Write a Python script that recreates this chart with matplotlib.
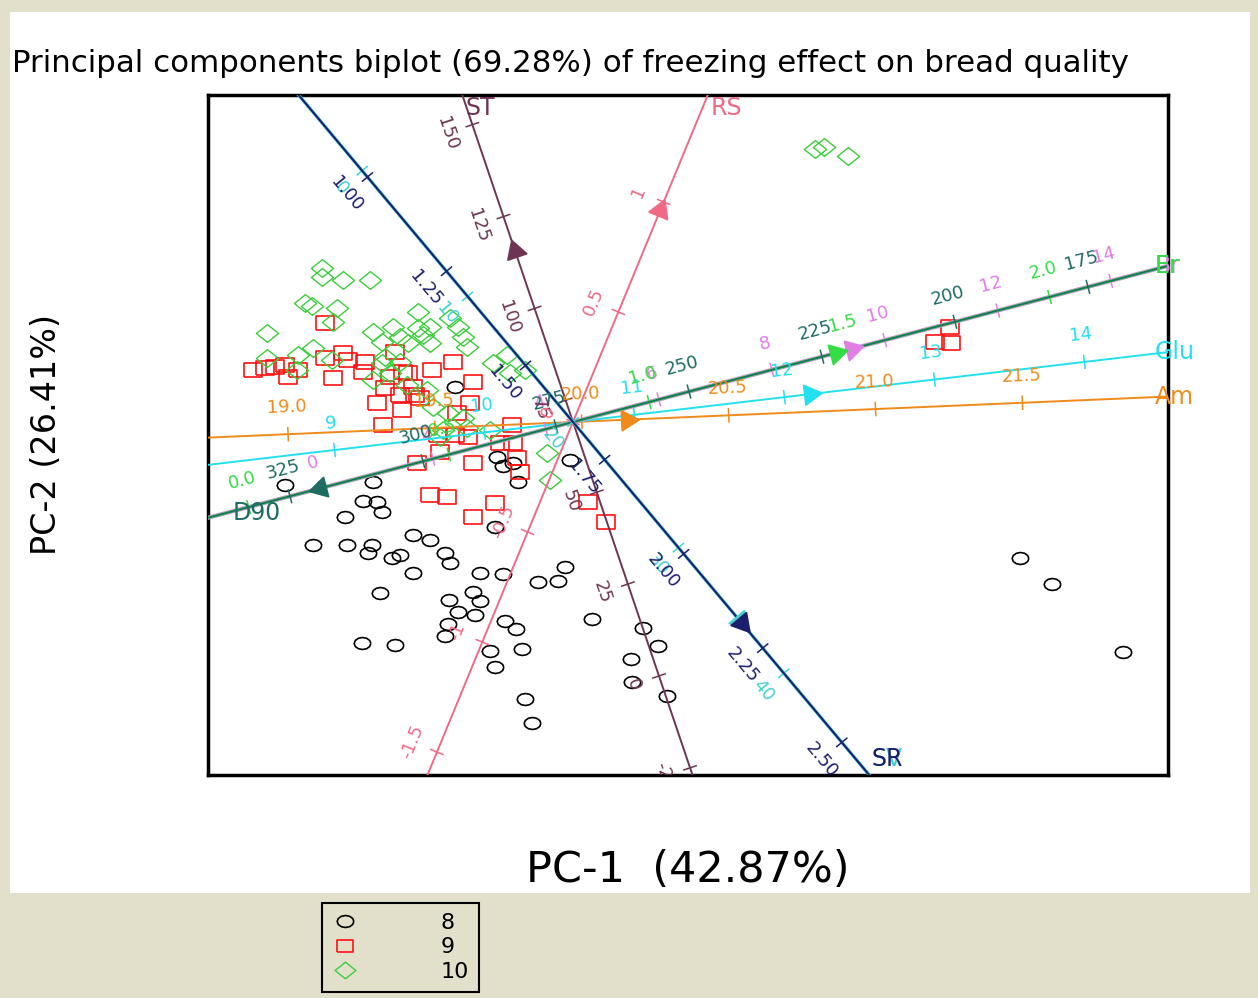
import numpy as np
import matplotlib
matplotlib.use('Agg')
import matplotlib.pyplot as plt
from matplotlib.path import Path
from matplotlib.lines import Line2D
from matplotlib.patches import Rectangle

# PC scores, group 8
g8_pc1 = [-2.88, -2.00, -2.10, -1.96, -1.91, -2.28, -1.18, -0.76, -0.60, -0.55, -0.70, -0.03, -0.78,
          -2.60, -2.26, -2.01, -2.05, -1.81, -1.73, -1.60, -1.43, -1.28, -1.23, -1.60, -1.93, -0.93,
          -0.70, -0.35, -0.15, -0.08, -1.00, -0.93, -1.24, -1.15, -0.98, -1.25, -1.28, -0.68, -0.57,
          -0.51, -0.83, -0.78, -2.11, -1.78, 0.19, 0.70, 0.85, 0.58, 0.59, 0.94, -0.48, -0.41,
          4.47, 4.79, 5.50]
g8_pc2 = [-0.63, -0.60, -0.79, -0.80, -0.90, -0.95, 0.35, -0.35, -0.41, -0.60, -0.44, -0.38, -1.05,
          -1.23, -1.23, -1.23, -1.31, -1.36, -1.33, -1.13, -1.18, -1.31, -1.41, -1.51, -1.71, -1.51,
          -1.52, -1.60, -1.59, -1.45, -1.70, -1.79, -1.78, -1.90, -1.93, -2.02, -2.14, -1.99, -2.07,
          -2.27, -2.29, -2.45, -2.21, -2.23, -1.97, -2.06, -2.24, -2.37, -2.60, -2.74, -2.77, -3.01,
          -1.36, -1.62, -2.30]

# group 9
g9_pc1 = [-3.20, -3.08, -2.98, -2.88, -2.85, -2.75, -2.48, -2.30, -2.25, -2.08, -2.40, -1.78, -2.10,
          -1.83, -1.70, -1.65, -1.41, -1.20, -1.60, -1.88, -1.73, -1.58, -1.53, -1.96, -1.71, -1.00,
          -1.03, -1.16, -1.90, -0.61, -1.35, -1.18, -1.05, -0.73, -0.60, -1.33, -1.56, -1.00, -0.56,
          -0.53, -1.43, -1.26, -0.78, -1.00, 0.15, 0.33, -2.48, 3.62, 3.78, 3.77]
g9_pc2 = [0.52, 0.54, 0.55, 0.57, 0.45, 0.52, 0.64, 0.69, 0.62, 0.60, 0.44, 0.70, 0.50,
          0.45, 0.50, 0.49, 0.52, 0.60, 0.35, 0.34, 0.27, 0.27, 0.24, 0.19, 0.12, 0.40,
          0.19, 0.09, -0.03, -0.03, -0.13, -0.13, -0.15, -0.21, -0.21, -0.30, -0.41, -0.41, -0.36,
          -0.50, -0.73, -0.75, -0.81, -0.95, -0.80, -1.00, 0.99, 0.80, 0.79, 0.95]

# group 10
g10_pc1 = [-2.51, -2.51, -2.30, -2.03, -2.68, -2.61, -2.36, -3.06, -2.40, -2.00, -1.80, -1.55, -1.55,
           -1.50, -1.91, -1.73, -1.65, -1.43, -1.23, -1.15, -1.10, -1.06, -2.60, -2.75, -3.06, -1.88,
           -0.66, -0.80, -1.43, -2.76, -2.41, -1.91, -1.73, -1.83, -2.00, -1.66, -1.46, -1.40, -1.25,
           -1.10, -0.63, -0.48, -0.83, -0.26, -0.23, -1.30, -1.06, -1.33, 2.42, 2.51, 2.75]
g10_pc2 = [1.54, 1.45, 1.42, 1.42, 1.19, 1.16, 1.14, 0.89, 1.00, 0.90, 0.95, 1.10, 0.94,
           0.87, 0.80, 0.85, 0.79, 0.95, 1.04, 0.95, 0.85, 0.75, 0.74, 0.67, 0.64, 0.65,
           0.67, 0.59, 0.79, 0.52, 0.62, 0.59, 0.60, 0.49, 0.42, 0.37, 0.32, 0.15, 0.09,
           0.04, 0.49, 0.52, -0.08, -0.31, -0.58, -0.08, -0.06, -0.15, 2.73, 2.75, 2.66]

group_labels = ['8', '9', '10']

# calibrated biplot axes
var_names = ['Am', 'Glu', 'Br', 'Er', 'D90', 'ST', 'RS', 'SV', 'SR']
var_colors = ['#f08a1a', '#22e0f0', '#e07ee6', '#33dd44', '#1d6b63', '#6e3552', '#ee6a85', '#45d0d0', '#1b1f6e']
var_angle = [2.45, 6.7, 14.7, 14.7, 194.7, 108.7, 67.6, -50.0, -50.0]    # direction of increase
var_centre = [19.97, 10.59, 4.48, 0.81, 271.8, 69.1, 0.0, 20.0, 1.65]    # value at the origin
var_scale = [2.94, 1.51, 0.584, 4.14, 0.055, 0.0388, 2.38, 0.164, 4.92]  # plot units per unit
var_ticks = [[19.0, 19.5, 20.0, 20.5, 21.0, 21.5],
             [9, 10, 11, 12, 13, 14],
             [0, 2, 4, 6, 8, 10, 12, 14],
             [0.0, 0.5, 1.0, 1.5, 2.0],
             [175, 200, 225, 250, 275, 300, 325],
             [-25, 0, 25, 50, 75, 100, 125, 150],
             [-1.5, -1.0, -0.5, 0.0, 0.5, 1.0],
             [0, 10, 20, 30, 40],
             [1.00, 1.25, 1.50, 1.75, 2.00, 2.25, 2.50]]
var_fmt = ['%.1f', '%d', '%d', '%.1f', '%d', '%d', '%g', '%d', '%.2f']
var_arrow = [0.54, 2.39, 2.88, 2.72, 2.62, 1.81, 2.29, 2.60, 2.63]
var_lw = [1.4, 1.4, 3.0, 2.0, 1.2, 1.4, 1.4, 2.4, 1.5]

X0, X1, Y0, Y1 = -3.65, 5.95, -3.53, 3.27
bg = '#e2e0ca'

fig = plt.figure(figsize=(12.58, 9.98), dpi=100, facecolor=bg)
fig.add_artist(Rectangle((10 / 1258, 1 - 893 / 998), 1240 / 1258, 881 / 998,
                         transform=fig.transFigure, facecolor='white', edgecolor='none', zorder=-5))
ax = fig.add_axes([208 / 1258, 1 - 775 / 998, 960 / 1258, 680 / 998])

# markers (squashed, like the stretched original)
th = np.linspace(0, 2 * np.pi, 13)
m_circ = Path(np.column_stack([np.cos(th), 0.72 * np.sin(th)]))
m_sq = Path([(-1, -0.76), (1, -0.76), (1, 0.76), (-1, 0.76), (-1, -0.76)])
m_dia = Path([(0, -0.8), (1, 0), (0, 0.8), (-1, 0), (0, -0.8)])

ax.plot(g8_pc1, g8_pc2, ls='none', marker=m_circ, ms=12, mfc='none', mec='black', mew=1.2, zorder=2)
ax.plot(g9_pc1, g9_pc2, ls='none', marker=m_sq, ms=12.5, mfc='none', mec='#ff1111', mew=1.2, zorder=2)
ax.plot(g10_pc1, g10_pc2, ls='none', marker=m_dia, ms=16, mfc='none', mec='#3ccc3c', mew=1.0, zorder=2)

for i, name in enumerate(var_names):
    col = var_colors[i]
    ang = var_angle[i]
    d = np.array([np.cos(np.radians(ang)), np.sin(np.radians(ang))])
    ax.plot([-15 * d[0], 15 * d[0]], [-15 * d[1], 15 * d[1]], color=col, lw=var_lw[i], zorder=3)
    orient = ang % 180
    n = np.array([np.cos(np.radians(orient + 90)), np.sin(np.radians(orient + 90))])
    rot = orient if orient <= 90 else orient - 180
    for v in var_ticks[i]:
        p = (v - var_centre[i]) * var_scale[i] * d
        ax.plot([p[0] - 0.065 * n[0], p[0] + 0.065 * n[0]], [p[1] - 0.065 * n[1], p[1] + 0.065 * n[1]],
                color=col, lw=1.1, zorder=3)
        q = p + 0.27 * n
        ax.text(q[0], q[1], var_fmt[i] % v, color=col, fontsize=13, rotation=rot,
                rotation_mode='anchor', ha='center', va='center', clip_on=True, zorder=5)
    a = var_arrow[i] * d
    ax.plot(a[0], a[1], marker=(3, 0, ang - 90), ms=17, color=col, mec=col, zorder=4)

    # variable name where the axis leaves the plot
    tx = (X1 if d[0] > 0 else X0) / d[0]
    ty = (Y1 if d[1] > 0 else Y0) / d[1]
    if tx < ty:
        e = tx * d
        if d[0] > 0:
            ax.text(X1 - 0.13, e[1], name, color=col, fontsize=17, ha='left', va='center',
                    clip_on=False, zorder=6)
        else:
            ax.text(X0 + 0.25, e[1] + 0.05, name, color=col, fontsize=17, ha='left', va='center',
                    zorder=6)
    else:
        e = ty * d
        if d[1] > 0:
            ax.text(e[0] + 0.03, Y1 - 0.01, name, color=col, fontsize=17, ha='left', va='top', zorder=6)
        else:
            ax.text(e[0] + 0.02, Y0 + 0.04, name, color=col, fontsize=17, ha='left', va='bottom', zorder=6)

ax.set_xlim(X0, X1)
ax.set_ylim(Y0, Y1)
ax.set_xticks([])
ax.set_yticks([])
for s in ax.spines.values():
    s.set_linewidth(2.5)
    s.set_color('black')

fig.text(12 / 1258, 1 - 63 / 998, 'Principal components biplot (69.28%) of freezing effect on bread quality',
         fontsize=22.2, ha='left', va='center')
fig.text(688 / 1258, 1 - 870 / 998, 'PC-1  (42.87%)', fontsize=31, ha='center', va='center')
fig.text(47 / 1258, 1 - 435 / 998, 'PC-2 (26.41%)', fontsize=24, ha='center', va='center', rotation=90)

handles = [Line2D([], [], ls='none', marker=m_circ, ms=12, mfc='none', mec='black', mew=1.2),
           Line2D([], [], ls='none', marker=m_sq, ms=12, mfc='none', mec='#ff1111', mew=1.2),
           Line2D([], [], ls='none', marker=m_dia, ms=15, mfc='none', mec='#3ccc3c', mew=1.0)]
leg = fig.legend(handles, group_labels, loc='upper left', bbox_to_anchor=(322 / 1258, 1 - 903 / 998),
                 fontsize=16, frameon=True, fancybox=False, edgecolor='black', facecolor=bg,
                 framealpha=1, handlelength=1.2, handletextpad=3.7, labelspacing=0.2, borderpad=0.45,
                 borderaxespad=0)
leg.get_frame().set_linewidth(1.5)

fig.savefig('out.png', dpi=100, facecolor=bg)
